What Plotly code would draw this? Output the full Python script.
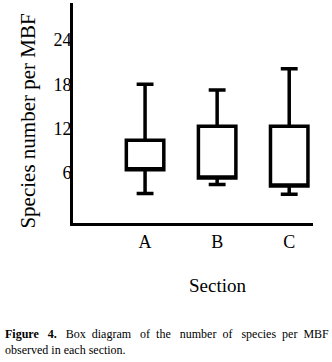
import plotly.graph_objects as go

sections = ["A", "B", "C"]
lower_whisker = [3.2, 4.4, 3.1]
q1_vals = [6.4, 5.3, 4.2]
median_vals = [6.4, 5.3, 4.2]
q3_vals = [10.4, 12.3, 12.3]
upper_whisker = [18.0, 17.2, 20.1]
y_ticks = [6, 12, 18, 24]

serif = "Liberation Serif, Times New Roman, serif"

s1 = " &nbsp;"
s2 = " &nbsp;&nbsp;"
caption_line1 = ("<b>Figure" + s2 + "4.</b>" + s2 + "Box" + s1 + "diagram" + s2 + "of" + s1 + "the"
                 + s2 + "number" + s1 + "of" + s2 + "species" + s1 + "per" + s1 + "MBF")
caption_line2 = "observed in each section."

fig = go.Figure()
fig.add_trace(go.Box(
    x=sections,
    q1=q1_vals, median=median_vals, q3=q3_vals,
    lowerfence=lower_whisker, upperfence=upper_whisker,
    fillcolor="white",
    line=dict(color="black", width=3.5),
    width=0.52,
    whiskerwidth=0.45,
    boxpoints=False,
    hoverinfo="skip",
    showlegend=False,
))

fig.update_layout(
    width=332, height=362,
    margin=dict(l=73, r=19, t=3, b=139),
    paper_bgcolor="white", plot_bgcolor="white",
    font=dict(family=serif, color="black"),
    xaxis=dict(
        type="category", range=[-1.0, 2.33],
        showline=True, linecolor="black", linewidth=3,
        showgrid=False, zeroline=False, ticks="",
        tickfont=dict(size=18, family=serif),
    ),
    yaxis=dict(
        range=[-0.8, 29.0], tickvals=y_ticks,
        showline=True, linecolor="black", linewidth=3,
        showgrid=False, zeroline=False, ticks="",
        ticklabelstandoff=-5,
        tickfont=dict(size=18, family=serif),
    ),
    annotations=[
        dict(text="Species number per MBF", textangle=-90,
             xref="paper", yref="paper", x=-0.188, y=0.465,
             xanchor="center", yanchor="middle", showarrow=False,
             font=dict(size=21, family=serif)),
        dict(text="Section", xref="x", yref="paper", x="B", y=-0.282,
             xanchor="center", yanchor="middle", showarrow=False,
             font=dict(size=19, family=serif)),
        dict(text=caption_line1 + "<br>" + caption_line2,
             xref="paper", yref="paper", x=-0.29, y=-0.465,
             xanchor="left", yanchor="top", align="left", showarrow=False,
             font=dict(size=12, family=serif)),
    ],
)

fig.write_html("out.html", config={"displayModeBar": False},
               post_script="document.body.style.margin='0';")
